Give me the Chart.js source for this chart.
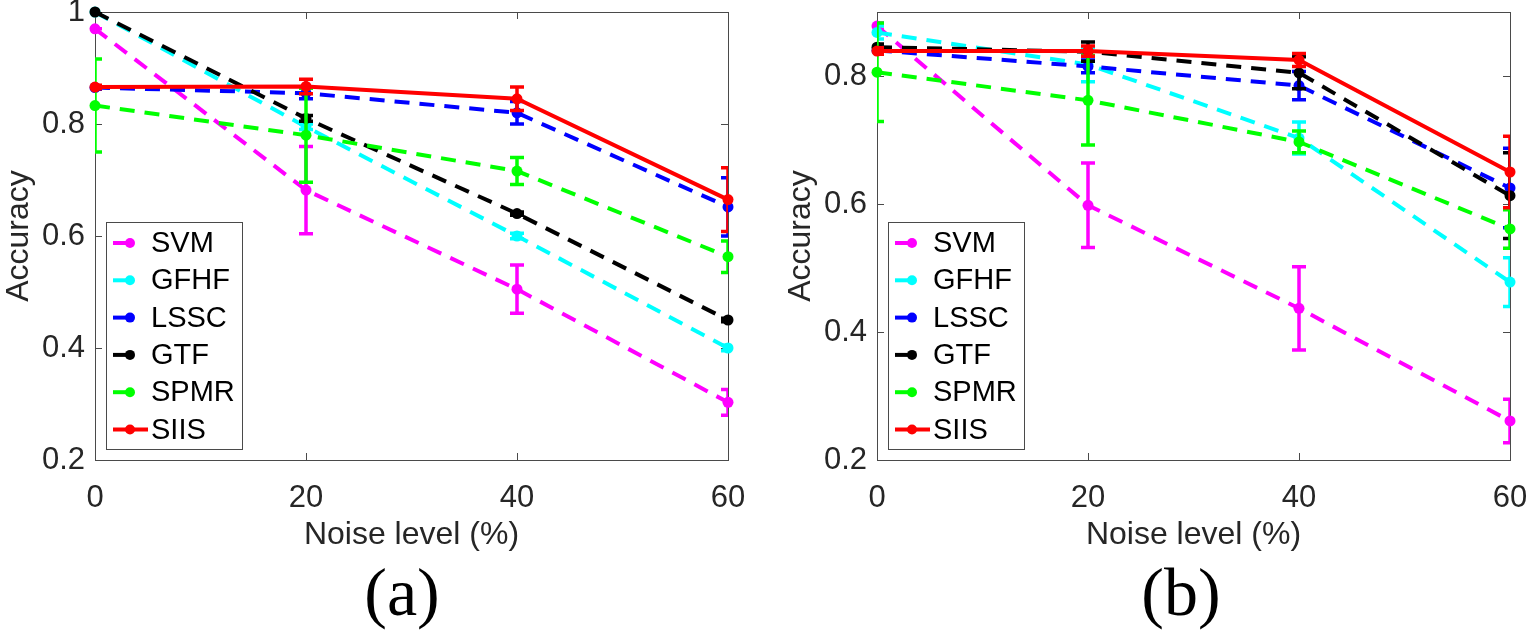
<!DOCTYPE html>
<html>
<head>
<meta charset="utf-8">
<script src="https://cdn.jsdelivr.net/npm/chart.js@4.4.0/dist/chart.umd.min.js"></script>
<style>
body { margin: 0; background: #fff; width: 1531px; height: 637px; overflow: hidden; position: relative; }
canvas { position: absolute; top: 0; }
#ca { left: 0; }
#cb { left: 782px; }
.tag { position: absolute; top: 552px; width: 200px; text-align: center; line-height: 80px;
       font-family: "Liberation Serif", "Times New Roman", serif; font-size: 68px; color: #000; }
</style>
</head>
<body>
<canvas id="ca" width="749" height="560"></canvas>
<canvas id="cb" width="749" height="560"></canvas>
<div class="tag" style="left:302px">(a)</div>
<div class="tag" style="left:1081px">(b)</div>
<script>
'use strict'

const NOISE = [0, 20, 40, 60]
const METHODS = ['SVM', 'GFHF', 'LSSC', 'GTF', 'SPMR', 'SIIS']
const COLORS = ['#ff00ff', '#00ffff', '#0000ff', '#000000', '#00ff00', '#ff0000']

// panel (a)
const SVM_A  = [0.970, 0.682, 0.505, 0.303]
const GFHF_A = [1.000, 0.795, 0.600, 0.400]
const LSSC_A = [0.865, 0.855, 0.820, 0.652]
const GTF_A  = [1.000, 0.810, 0.640, 0.450]
const SPMR_A = [0.833, 0.780, 0.716, 0.563]
const SIIS_A = [0.866, 0.867, 0.845, 0.665]
const SVM_A_ERR  = [0.000, 0.078, 0.043, 0.023]
const GFHF_A_ERR = [0.000, 0.005, 0.005, 0.005]
const LSSC_A_ERR = [0.003, 0.010, 0.020, 0.052]
const GTF_A_ERR  = [0.000, 0.005, 0.003, 0.003]
const SPMR_A_ERR = [0.083, 0.084, 0.024, 0.028]
const SIIS_A_ERR = [0.003, 0.013, 0.021, 0.057]

// panel (b)
const SVM_B  = [0.878, 0.598, 0.437, 0.261]
const GFHF_B = [0.868, 0.818, 0.703, 0.478]
const LSSC_B = [0.840, 0.815, 0.785, 0.625]
const GTF_B  = [0.845, 0.838, 0.805, 0.613]
const SPMR_B = [0.806, 0.762, 0.697, 0.561]
const SIIS_B = [0.839, 0.839, 0.825, 0.650]
const SVM_B_ERR  = [0.005, 0.066, 0.065, 0.034]
const GFHF_B_ERR = [0.010, 0.027, 0.025, 0.038]
const LSSC_B_ERR = [0.005, 0.010, 0.022, 0.062]
const GTF_B_ERR  = [0.005, 0.015, 0.025, 0.067]
const SPMR_B_ERR = [0.077, 0.070, 0.017, 0.030]
const SIIS_B_ERR = [0.005, 0.008, 0.010, 0.056]

const X_TICKS = [0, 20, 40, 60]
const Y_TICKS_A = [0.2, 0.4, 0.6, 0.8, 1]
const Y_TICKS_B = [0.2, 0.4, 0.6, 0.8]

const SANS = '"Liberation Sans", Arial, Helvetica, sans-serif'
const AXIS_COLOR = '#4a4a4a'

// frame + inward ticks, drawn under the lines
const axesBox = {
    id: 'axesBox',
    beforeDatasetsDraw(chart) {
        const { ctx, chartArea: a, scales: { x, y } } = chart
        ctx.save()
        ctx.strokeStyle = AXIS_COLOR
        ctx.lineWidth = 1
        ctx.strokeRect(a.left + 0.5, a.top + 0.5, a.right - a.left, a.bottom - a.top)
        ctx.beginPath()
        for (const t of x.ticks) {
            const px = Math.round(x.getPixelForValue(t.value)) + 0.5
            ctx.moveTo(px, a.bottom); ctx.lineTo(px, a.bottom - 7)
            ctx.moveTo(px, a.top); ctx.lineTo(px, a.top + 7)
        }
        for (const t of y.ticks) {
            const py = Math.round(y.getPixelForValue(t.value)) + 0.5
            ctx.moveTo(a.left, py); ctx.lineTo(a.left + 7, py)
            ctx.moveTo(a.right, py); ctx.lineTo(a.right - 7, py)
        }
        ctx.stroke()
        ctx.restore()
    }
}

// error bars, drawn right after each dataset so the layering follows the series
const errorBars = {
    id: 'errorBars',
    afterDatasetDraw(chart, args) {
        const ds = chart.data.datasets[args.index]
        if (!ds.errors) return
        const { ctx, chartArea: a, scales: { x, y } } = chart
        ctx.save()
        ctx.beginPath()
        ctx.rect(a.left, a.top, a.right - a.left, a.bottom - a.top)
        ctx.clip()
        ctx.strokeStyle = ds.borderColor
        ctx.lineWidth = 3.5
        ctx.setLineDash([])
        ds.data.forEach((p, i) => {
            const e = ds.errors[i]
            const px = x.getPixelForValue(p.x)
            const top = y.getPixelForValue(p.y + e)
            const bot = y.getPixelForValue(p.y - e)
            ctx.beginPath()
            ctx.moveTo(px, top); ctx.lineTo(px, bot)
            ctx.moveTo(px - 7, top); ctx.lineTo(px + 7, top)
            ctx.moveTo(px - 7, bot); ctx.lineTo(px + 7, bot)
            ctx.stroke()
        })
        ctx.restore()
    }
}

// boxed legend in the lower left of the axes
const boxLegend = {
    id: 'boxLegend',
    afterDraw(chart) {
        const { ctx, chartArea: a } = chart
        const bx = Math.round(a.left) + 11, by = 222, bw = 136, bh = 227
        ctx.save()
        ctx.fillStyle = '#fff'
        ctx.fillRect(bx, by, bw, bh)
        ctx.strokeStyle = AXIS_COLOR
        ctx.lineWidth = 1
        ctx.strokeRect(bx + 0.5, by + 0.5, bw, bh)
        ctx.font = '29px ' + SANS
        ctx.textBaseline = 'middle'
        const items = chart.data.datasets.slice().sort((p, q) => p.idx - q.idx)
        items.forEach((ds, i) => {
            const cy = by + 21 + i * 37.3
            ctx.strokeStyle = ds.borderColor
            ctx.lineWidth = 4
            ctx.beginPath()
            ctx.moveTo(bx + 7, cy)
            ctx.lineTo(ds.borderDash.length ? bx + 24 : bx + 42, cy)
            ctx.stroke()
            ctx.fillStyle = ds.borderColor
            ctx.beginPath()
            ctx.arc(bx + 24, cy, 5, 0, Math.PI * 2)
            ctx.fill()
            ctx.fillStyle = '#000'
            ctx.fillText(ds.label, bx + 45, cy + 1)
        })
        ctx.restore()
    }
}

function makeChart(id, series, errors, yMax, yTicks) {
    const datasets = METHODS.map((name, i) => ({
        label: name,
        idx: i,
        data: NOISE.map((n, k) => ({ x: n, y: series[i][k] })),
        errors: errors[i],
        borderColor: COLORS[i],
        backgroundColor: COLORS[i],
        borderWidth: 4,
        borderDash: name === 'SIIS' ? [] : [15, 10],
        pointRadius: 5.5,
        pointBorderWidth: 0,
        pointBackgroundColor: COLORS[i],
        tension: 0,
        clip: false,
        order: METHODS.length - i
    }))

    return new Chart(document.getElementById(id), {
        type: 'line',
        data: { datasets },
        plugins: [axesBox, errorBars, boxLegend],
        options: {
            responsive: false,
            animation: false,
            layout: { padding: { left: 0, right: 21, top: 12, bottom: 0 } },
            plugins: { legend: { display: false }, tooltip: { enabled: false } },
            scales: {
                x: {
                    type: 'linear',
                    min: 0, max: 60,
                    afterBuildTicks(scale) { scale.ticks = X_TICKS.map(v => ({ value: v })) },
                    afterFit(scale) {
                        scale.height = 100
                        scale.paddingLeft = 0
                        scale.paddingRight = 0
                    },
                    grid: { display: false, drawTicks: false, tickLength: 0 },
                    border: { display: false },
                    ticks: { color: '#262626', padding: 20, maxRotation: 0,
                             font: { family: SANS, size: 31 } },
                    title: { display: true, text: 'Noise level (%)', color: '#262626',
                             font: { family: SANS, size: 32 }, padding: { top: 0, bottom: 6 } }
                },
                y: {
                    min: 0.2, max: yMax,
                    afterBuildTicks(scale) { scale.ticks = yTicks.map(v => ({ value: v })) },
                    afterFit(scale) {
                        scale.width = 95
                        scale.paddingTop = 0
                        scale.paddingBottom = 0
                    },
                    grid: { display: false, drawTicks: false, tickLength: 0 },
                    border: { display: false },
                    ticks: { color: '#262626', padding: 10,
                             font: { family: SANS, size: 31 },
                             callback: v => String(Number(v.toFixed(1))) },
                    title: { display: true, text: 'Accuracy', color: '#262626',
                             font: { family: SANS, size: 32 }, padding: { top: 0, bottom: 0 } }
                }
            }
        }
    })
}

makeChart('ca',
    [SVM_A, GFHF_A, LSSC_A, GTF_A, SPMR_A, SIIS_A],
    [SVM_A_ERR, GFHF_A_ERR, LSSC_A_ERR, GTF_A_ERR, SPMR_A_ERR, SIIS_A_ERR],
    1.0, Y_TICKS_A)

makeChart('cb',
    [SVM_B, GFHF_B, LSSC_B, GTF_B, SPMR_B, SIIS_B],
    [SVM_B_ERR, GFHF_B_ERR, LSSC_B_ERR, GTF_B_ERR, SPMR_B_ERR, SIIS_B_ERR],
    0.9, Y_TICKS_B)
</script>
</body>
</html>
